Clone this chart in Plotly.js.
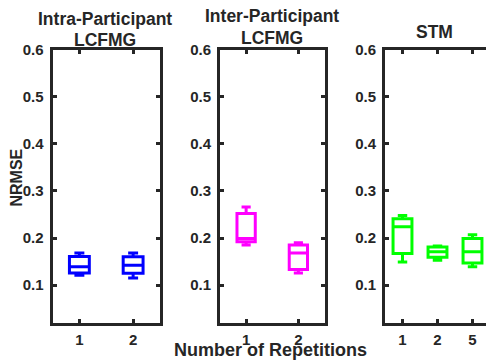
<!DOCTYPE html>
<html>
<head>
<meta charset="utf-8">
<script src="https://cdn.plot.ly/plotly-3.0.1.min.js"></script>
<style>
html,body{margin:0;padding:0;overflow:hidden;background:#fff;}
#chart{width:494px;height:360px;}
</style>
</head>
<body>
<div id="chart"></div>
<script>
// ---- data ----
var yTickVals = [0.1, 0.2, 0.3, 0.4, 0.5, 0.6];
var yTickText = ["0.1", "0.2", "0.3", "0.4", "0.5", "0.6"];

var intraCats = ["1", "2"];
var intraLower = [0.121, 0.115];
var intraQ1 = [0.126, 0.125];
var intraMedian = [0.139, 0.142];
var intraQ3 = [0.161, 0.160];
var intraUpper = [0.168, 0.168];

var interCats = ["1", "2"];
var interLower = [0.185, 0.126];
var interQ1 = [0.192, 0.133];
var interMedian = [0.199, 0.168];
var interQ3 = [0.252, 0.185];
var interUpper = [0.266, 0.190];

var stmCats = ["1", "2", "5"];
var stmLower = [0.149, 0.153, 0.139];
var stmQ1 = [0.167, 0.159, 0.147];
var stmMedian = [0.224, 0.171, 0.171];
var stmQ3 = [0.241, 0.181, 0.199];
var stmUpper = [0.248, 0.183, 0.207];

var colors = ["#0000ff", "#ff00ff", "#00ff00"];

// ---- layout helpers ----
var W = 494, H = 360;
function px(x){ return x / W; }
function py(y){ return 1 - y / H; }
var ink = "#262626";
var fontFam = "Arial, 'Liberation Sans', sans-serif";

function boxTrace(cats, lo, q1, med, q3, hi, color, xa, ya, w){
  return {
    type: "box", x: cats, lowerfence: lo, q1: q1, median: med, q3: q3, upperfence: hi,
    boxpoints: false, xaxis: xa, yaxis: ya, width: w, whiskerwidth: 0.5,
    line: {color: color, width: 3}, fillcolor: "rgba(0,0,0,0)", showlegend: false,
    hoverinfo: "skip"
  };
}

var data = [
  boxTrace(intraCats, intraLower, intraQ1, intraMedian, intraQ3, intraUpper, colors[0], "x", "y", 0.37),
  boxTrace(interCats, interLower, interQ1, interMedian, interQ3, interUpper, colors[1], "x2", "y2", 0.35),
  boxTrace(stmCats, stmLower, stmQ1, stmMedian, stmQ3, stmUpper, colors[2], "x3", "y3", 0.54)
];

function xAxis(dom, n, anchor){
  return {
    domain: dom, anchor: anchor, type: "category", range: [-0.5, n - 0.5],
    showline: true, linecolor: ink, linewidth: 3, mirror: "ticks",
    ticks: "inside", ticklen: 4, tickwidth: 3, tickcolor: ink,
    showgrid: false, zeroline: false, fixedrange: true,
    tickfont: {family: fontFam, size: 15, color: ink, weight: "bold"},
    ticklabelstandoff: 1
  };
}
function yAxis(anchor){
  return {
    domain: [py(323.3), py(49.5)], anchor: anchor, range: [0.019, 0.6],
    tickvals: yTickVals, ticktext: yTickText,
    showline: true, linecolor: ink, linewidth: 3, mirror: "ticks",
    ticks: "inside", ticklen: 4, tickwidth: 3, tickcolor: ink,
    showgrid: false, zeroline: false, fixedrange: true,
    tickfont: {family: fontFam, size: 15, color: ink, weight: "bold"},
    ticklabelstandoff: 3
  };
}

function ann(text, x, y, size, angle){
  return {text: text, xref: "paper", yref: "paper", x: px(x), y: py(y),
    xanchor: "center", yanchor: "middle", showarrow: false,
    font: {family: fontFam, size: size, color: ink, weight: "bold"},
    textangle: angle || 0};
}

var layout = {
  width: W, height: H,
  margin: {l: 0, r: 0, t: 0, b: 0, pad: 0},
  paper_bgcolor: "#fff", plot_bgcolor: "#fff",
  showlegend: false,
  xaxis: xAxis([px(52.5), px(160)], 2, "y"),
  xaxis2: xAxis([px(220), px(324.5)], 2, "y2"),
  xaxis3: xAxis([px(385), px(490)], 3, "y3"),
  yaxis: yAxis("x"),
  yaxis2: yAxis("x2"),
  yaxis3: yAxis("x3"),
  annotations: [
    ann("Intra-Participant", 105, 18.5, 17.5),
    ann("LCFMG", 105, 40, 17.5),
    ann("Inter-Participant", 272, 16, 17.5),
    ann("LCFMG", 272, 38, 17.5),
    ann("STM", 434, 32, 17.5),
    ann("Number of Repetitions", 270.5, 350, 18),
    ann("NRMSE", 15.5, 177, 16, -90)
  ]
};

Plotly.newPlot("chart", data, layout, {displayModeBar: false, staticPlot: true});
</script>
</body>
</html>
